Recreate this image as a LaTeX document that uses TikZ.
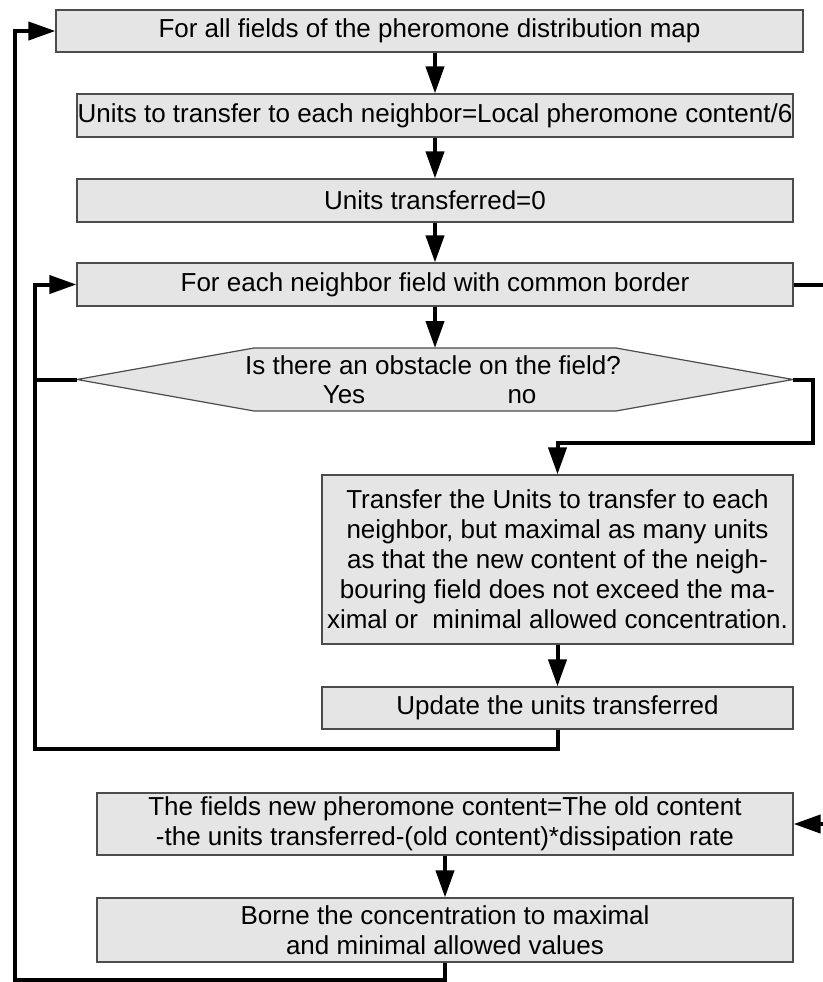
\documentclass[tikz,border=0pt]{standalone}
\usepackage{fontspec}
\setmainfont{Liberation Sans}
\usetikzlibrary{arrows.meta}

\tikzset{
  flowbox/.style={draw=black!70, fill=black!10, line width=0.6pt, inner sep=0pt,
    align=center, font=\fontsize{13}{15}\selectfont},
  flowtext/.style={inner sep=0pt, font=\fontsize{13}{15}\selectfont},
  flowline/.style={line width=2pt},
  flowarrow/.style={flowline, -{Triangle[length=13.5pt,width=9pt]}}
}

\begin{document}
\begin{tikzpicture}[x=0.5pt, y=-0.5pt]
\useasboundingbox (0,0) rectangle (823,982);
\clip (0,0) rectangle (823,982);
% Boxes
\node[flowbox, minimum width=373.5pt, minimum height=21pt] (allfields) at (429.5,31)
  {For all fields of the pheromone distribution map};
\node[flowbox, minimum width=358pt, minimum height=21.5pt] (units) at (435,115.5)
  {Units to transfer to each neighbor=Local pheromone content/6};
\node[flowbox, minimum width=358pt, minimum height=21.5pt] (transferred) at (435,200.5)
  {Units transferred=0};
\node[flowbox, minimum width=358pt, minimum height=21.5pt] (neighbor) at (435,284.5)
  {For each neighbor field with common border};
% Decision
\coordinate (dtop) at (435,348);
\coordinate (dleft) at (77,379.5);
\coordinate (dright) at (793,379.5);
\filldraw[fill=black!10, draw=black!70, line width=0.6pt]
  (dleft) -- (254,348) -- (616,348) -- (dright) -- (616,411) -- (254,411) -- cycle;
\node[flowtext, anchor=base] (question) at (433,374) {Is there an obstacle on the field?};
\node[flowtext, anchor=base] (yes) at (344,403) {Yes};
\node[flowtext, anchor=base] (no) at (522,403) {no};
% Inner boxes
\node[flowbox, minimum width=235.5pt, minimum height=84.5pt] (transfer) at (557.5,559.5)
  {Transfer the Units to transfer to each\\
   neighbor, but maximal as many units\\
   as that the new content of the neigh-\\
   bouring field does not exceed the ma-\\
   ximal or~ minimal allowed concentration.};
\node[flowbox, minimum width=235.5pt, minimum height=21pt] (update) at (557.5,708)
  {Update the units transferred};
\node[flowbox, minimum width=348pt, minimum height=31pt] (fields) at (445,824)
  {The fields new pheromone content=The old content\\
   -the units transferred-(old content)*dissipation rate};
\node[flowbox, minimum width=348pt, minimum height=32pt] (borne) at (445,930)
  {Borne the concentration to maximal\\
   and minimal allowed values};
% Loop corners
\coordinate (outerloop) at (15,980);
\coordinate (innerloop) at (35,749);
\coordinate (dturn) at (813,443);
\coordinate (rightloop) at (826,555);
% Connectors
\draw[flowarrow] (units.north |- allfields.south) -- (units.north);
\draw[flowarrow] (units) -- (transferred);
\draw[flowarrow] (transferred) -- (neighbor);
\draw[flowarrow] (neighbor.south) -- (dtop);
\draw[flowarrow] (dright) -| (dturn) -| (transfer.north);
\draw[flowarrow] (transfer) -- (update);
\draw[flowline] (dleft) -- (dleft -| innerloop);
\draw[flowarrow] (update.south) |- (innerloop) |- (neighbor.west);
\draw[flowarrow] (neighbor.east) -| (rightloop) |- (fields.east);
\draw[flowarrow] (fields) -- (borne);
\draw[flowarrow] (borne.south) |- (outerloop) |- (allfields.west);
\end{tikzpicture}
\end{document}
